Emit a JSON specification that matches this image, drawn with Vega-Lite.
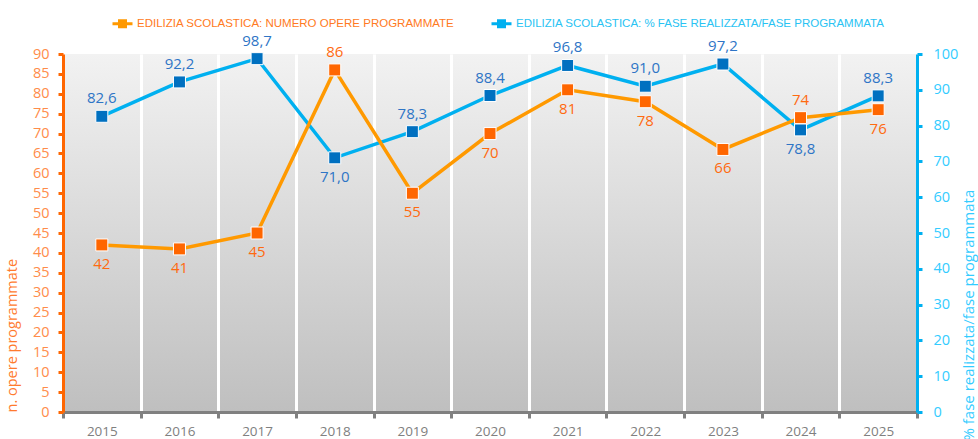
{
  "$schema": "https://vega.github.io/schema/vega-lite/v6.json",
  "width": 854,
  "height": 358,
  "autosize": "none",
  "padding": {"left": 63, "top": 54, "right": 61, "bottom": 27},
  "background": "white",
  "config": {
    "locale": {"number": {"decimal": ",", "thousands": ".", "grouping": [3], "currency": ["", " €"]}},
    "font": "Open Sans",
    "view": {
      "stroke": null,
      "fill": {"gradient": "linear", "x1": 0, "y1": 0, "x2": 0, "y2": 1,
        "stops": [{"offset": 0, "color": "#F2F2F2"}, {"offset": 1, "color": "#BFBFBF"}]}
    }
  },
  "data": {"values": [
    {"anno": "2015", "opere": 42, "perc": 82.6},
    {"anno": "2016", "opere": 41, "perc": 92.2},
    {"anno": "2017", "opere": 45, "perc": 98.7},
    {"anno": "2018", "opere": 86, "perc": 71.0},
    {"anno": "2019", "opere": 55, "perc": 78.3},
    {"anno": "2020", "opere": 70, "perc": 88.4},
    {"anno": "2021", "opere": 81, "perc": 96.8},
    {"anno": "2022", "opere": 78, "perc": 91.0},
    {"anno": "2023", "opere": 66, "perc": 97.2},
    {"anno": "2024", "opere": 74, "perc": 78.8},
    {"anno": "2025", "opere": 76, "perc": 88.3}
  ]},
  "encoding": {
    "x": {"field": "anno", "type": "ordinal", "bandPosition": 0.5,
      "scale": {"type": "band", "paddingInner": 0, "paddingOuter": 0},
      "axis": {"title": null, "tickBand": "extent", "grid": true, "gridColor": "#FFFFFF", "gridWidth": 3, "gridOpacity": 1,
        "domainColor": "#808080", "domainWidth": 3, "tickColor": "#808080", "tickWidth": 3, "tickSize": 6,
        "labelColor": "#808080", "labelFontSize": 13.5, "labelPadding": 6, "labelAngle": 0}}
  },
  "layer": [
    {
      "encoding": {
        "y": {"field": "perc", "type": "quantitative",
          "scale": {"domain": [0, 100], "nice": false},
          "axis": {"orient": "right", "values": [0,10,20,30,40,50,60,70,80,90,100], "grid": false,
            "domainColor": "#00B0F0", "domainWidth": 3, "tickColor": "#00B0F0", "tickWidth": 3, "tickSize": 5,
            "labelColor": "#33CCFF", "labelFontSize": 14.5, "labelPadding": 11,
            "title": "% fase realizzata/fase programmata", "titleColor": "#33CCFF", "titleFontSize": 15, "titleFontWeight": "normal",
            "titleAngle": 270, "titleAlign": "left", "titleBaseline": "middle", "titleX": 51, "titleY": 386}}
      },
      "layer": [
        {"mark": {"type": "line", "strokeWidth": 3.5},
         "encoding": {"color": {"datum": "EDILIZIA SCOLASTICA: % FASE REALIZZATA/FASE PROGRAMMATA",
           "scale": {"domain": ["EDILIZIA SCOLASTICA: NUMERO OPERE PROGRAMMATE", "EDILIZIA SCOLASTICA: % FASE REALIZZATA/FASE PROGRAMMATA"], "range": ["#FF9900", "#00B0F0"]},
           "legend": {"orient": "none", "legendX": 48, "legendY": -42, "direction": "horizontal", "title": null,
             "symbolType": "M-1,0L1,0M-0.3,-0.3L0.3,-0.3L0.3,0.3L-0.3,0.3Z", "symbolSize": 400, "symbolStrokeWidth": 3,
             "labelFont": "Liberation Sans", "labelFontSize": 11.5, "labelLimit": 600, "columnPadding": 30, "labelOffset": 3,
             "encode": {
               "symbols": {"update": {"fill": {"scale": "color", "field": "value"}, "stroke": {"scale": "color", "field": "value"}}},
               "labels": {"update": {"fill": {"signal": "datum.value == 'EDILIZIA SCOLASTICA: NUMERO OPERE PROGRAMMATE' ? '#FF7A22' : '#29C3F3'"}}}
             }}}}},
        {"mark": {"type": "point", "shape": "square", "filled": true, "size": 144, "fill": "#0070C0", "stroke": "#FFFFFF", "strokeWidth": 1, "opacity": 1}},
        {"transform": [{"filter": "datum.anno != '2018' && datum.anno != '2024'"}],
         "mark": {"type": "text", "dy": -18, "fontSize": 15, "color": "#2E75C6"},
         "encoding": {"text": {"field": "perc", "type": "quantitative", "format": ".1f"}}},
        {"transform": [{"filter": "datum.anno == '2018' || datum.anno == '2024'"}],
         "mark": {"type": "text", "dy": 19, "fontSize": 15, "color": "#2E75C6"},
         "encoding": {"text": {"field": "perc", "type": "quantitative", "format": ".1f"}}}
      ]
    },
    {
      "encoding": {
        "y": {"field": "opere", "type": "quantitative",
          "scale": {"domain": [0, 90], "nice": false},
          "axis": {"orient": "left", "values": [0,5,10,15,20,25,30,35,40,45,50,55,60,65,70,75,80,85,90], "grid": false,
            "domainColor": "#FF6600", "domainWidth": 3, "tickColor": "#FF6600", "tickWidth": 3, "tickSize": 5,
            "labelColor": "#FF8C4A", "labelFontSize": 14.5, "labelPadding": 9,
            "title": "n. opere programmate", "titleColor": "#FF7A2E", "titleFontSize": 14.5, "titleFontWeight": "normal",
            "titleAngle": 270, "titleAlign": "left", "titleBaseline": "middle", "titleX": -51, "titleY": 358}}
      },
      "layer": [
        {"mark": {"type": "line", "strokeWidth": 3.5},
         "encoding": {"color": {"datum": "EDILIZIA SCOLASTICA: NUMERO OPERE PROGRAMMATE"}}},
        {"mark": {"type": "point", "shape": "square", "filled": true, "size": 144, "fill": "#FF6600", "stroke": "#FFFFFF", "strokeWidth": 1, "opacity": 1}},
        {"transform": [{"filter": "datum.anno != '2018' && datum.anno != '2024'"}],
         "mark": {"type": "text", "dy": 19, "fontSize": 15, "color": "#FF6A10"},
         "encoding": {"text": {"field": "opere", "type": "quantitative", "format": "d"}}},
        {"transform": [{"filter": "datum.anno == '2018' || datum.anno == '2024'"}],
         "mark": {"type": "text", "dy": -18, "fontSize": 15, "color": "#FF6A10"},
         "encoding": {"text": {"field": "opere", "type": "quantitative", "format": "d"}}}
      ]
    }
  ],
  "resolve": {"scale": {"y": "independent"}}
}
